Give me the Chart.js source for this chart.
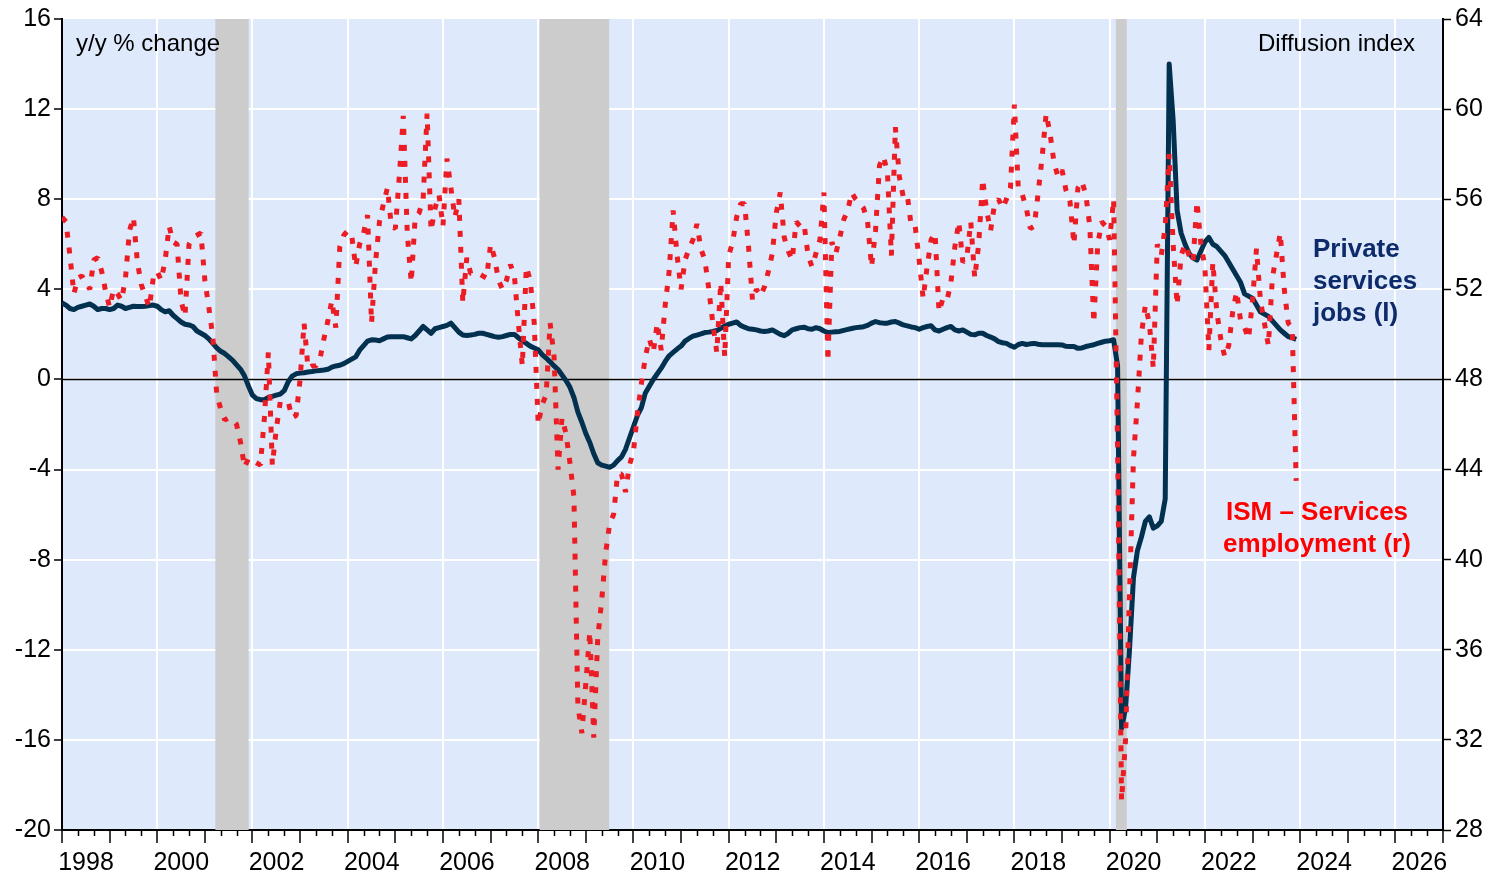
<!DOCTYPE html>
<html>
<head>
<meta charset="utf-8">
<title>Private services jobs vs ISM services employment</title>
<script src="https://cdn.jsdelivr.net/npm/chart.js@4.4.1/dist/chart.umd.min.js"></script>
<style>
  html, body { margin: 0; padding: 0; background: #fff; }
  canvas { display: block; }
</style>
</head>
<body>
<canvas id="chart" width="1508" height="878"></canvas>
<script>
// monthly series, Jan 1998 .. Dec 2023 (one row per year)
const START_YEAR = 1998;

// private services jobs, y/y % change (left axis)
const jobsYoY = [
  3.4, 3.3, 3.15, 3.1, 3.2, 3.25, 3.3, 3.35, 3.25, 3.1, 3.15, 3.15,
  3.1, 3.15, 3.3, 3.25, 3.15, 3.2, 3.25, 3.24, 3.24, 3.25, 3.28, 3.3,
  3.25, 3.1, 3.0, 3.05, 2.85, 2.7, 2.55, 2.45, 2.42, 2.35, 2.15, 2.05,
  1.95, 1.8, 1.6, 1.4, 1.25, 1.15, 1.0, 0.85, 0.65, 0.45, 0.15, -0.3,
  -0.7, -0.85, -0.9, -0.9, -0.8, -0.75, -0.7, -0.65, -0.5, -0.1, 0.15, 0.25,
  0.28, 0.3, 0.33, 0.35, 0.38, 0.4, 0.42, 0.45, 0.55, 0.6, 0.63, 0.7,
  0.8, 0.9, 1.0, 1.3, 1.5, 1.7, 1.76, 1.75, 1.72, 1.8, 1.88, 1.9,
  1.9, 1.9, 1.9, 1.85, 1.8, 1.95, 2.15, 2.35, 2.2, 2.05, 2.25, 2.3,
  2.35, 2.4, 2.5, 2.3, 2.1, 1.97, 1.95, 1.97, 2.0, 2.05, 2.05, 2.0,
  1.95, 1.9, 1.87, 1.9, 1.95, 2.0, 2.0, 1.85, 1.72, 1.6, 1.48, 1.4,
  1.32, 1.1, 0.95, 0.78, 0.6, 0.44, 0.2, -0.05, -0.35, -0.8, -1.45, -1.9,
  -2.4, -2.8, -3.3, -3.7, -3.8, -3.85, -3.9, -3.8, -3.6, -3.44, -3.1, -2.6,
  -2.1, -1.6, -1.25, -0.6, -0.3, 0.0, 0.25, 0.5, 0.8, 1.05, 1.2, 1.35,
  1.48, 1.7, 1.82, 1.92, 1.97, 2.02, 2.08, 2.1, 2.13, 2.17, 2.27, 2.38,
  2.45, 2.5, 2.55, 2.4, 2.32, 2.25, 2.23, 2.2, 2.15, 2.13, 2.15, 2.2,
  2.1, 2.0, 1.94, 2.05, 2.2, 2.25, 2.3, 2.32, 2.25, 2.23, 2.3, 2.25,
  2.15, 2.08, 2.1, 2.12, 2.13, 2.18, 2.22, 2.26, 2.3, 2.32, 2.34, 2.4,
  2.5, 2.57, 2.52, 2.5, 2.5, 2.55, 2.57, 2.5, 2.42, 2.38, 2.33, 2.3,
  2.23, 2.3, 2.35, 2.38, 2.2, 2.15, 2.23, 2.3, 2.35, 2.2, 2.15, 2.2,
  2.1, 2.0, 1.98, 2.05, 2.05, 1.95, 1.88, 1.8, 1.68, 1.63, 1.6, 1.5,
  1.43, 1.55, 1.6, 1.55, 1.58, 1.6, 1.56, 1.54, 1.54, 1.54, 1.54, 1.54,
  1.53, 1.47, 1.46, 1.46, 1.38, 1.4, 1.46, 1.5, 1.54, 1.6, 1.65, 1.7,
  1.72, 1.76, 0.6, -15.5, -14.6, -12.0, -8.8, -7.6, -7.0, -6.3, -6.1, -6.6,
  -6.5, -6.3, -5.3, 14.0, 11.5, 7.5, 6.5, 6.0, 5.6, 5.4, 5.3, 5.7,
  6.1, 6.3, 6.0, 5.9, 5.7, 5.5, 5.2, 4.9, 4.6, 4.3, 3.8, 3.7,
  3.6, 3.3, 3.0, 2.9, 2.8, 2.6, 2.4, 2.2, 2.05, 1.9, 1.85, 1.78
];

// ISM services employment diffusion index (right axis)
const ismEmployment = [
  55.2, 55.0, 53.5, 51.8, 52.5, 52.6, 52.3, 52.0, 53.3, 53.4, 52.8, 51.9,
  51.2, 52.0, 51.8, 51.5, 52.5, 54.6, 55.2, 53.2, 52.2, 51.7, 51.2, 52.5,
  52.8, 52.4, 53.3, 54.8, 54.1, 54.0, 51.5, 50.8, 54.0, 54.3, 54.4, 54.5,
  52.4, 51.2, 49.9, 47.3, 46.7, 46.2, 46.3, 46.2, 46.0, 45.2, 44.1, 44.5,
  44.4, 44.3, 44.2, 46.3, 49.2, 44.2, 45.8, 47.0, 47.0, 47.0, 46.3, 46.4,
  48.0, 50.5, 48.5, 48.6, 48.6, 48.9, 49.8, 50.6, 51.5, 50.3, 53.9, 54.4,
  54.6, 54.4, 53.0, 54.0, 54.5, 55.3, 50.5, 53.2, 55.0, 55.8, 56.5, 54.8,
  54.7, 57.0, 59.7, 54.5, 52.3, 55.2, 55.4, 56.0, 59.8, 54.6, 55.6, 56.2,
  54.8, 57.8, 56.5, 55.2, 56.0, 51.4, 53.4, 52.7, 52.7, 52.7, 52.6, 52.5,
  54.0, 53.4, 52.4, 52.0, 52.4, 53.1, 52.6, 50.5, 48.6, 53.0, 52.4, 50.5,
  46.0, 46.9, 47.3, 50.5, 49.0, 44.0, 46.3, 45.6, 44.3, 42.8, 33.5, 32.3,
  34.5, 36.8, 32.1, 36.5, 38.2, 40.3, 41.6, 42.0, 43.8, 43.8, 43.0, 44.2,
  44.8, 46.5, 47.8, 49.0, 49.8, 49.2, 50.5, 49.3, 51.3, 52.8, 55.5, 53.5,
  52.0, 53.3, 53.8, 54.2, 54.9, 53.8, 53.3, 52.0, 50.5, 49.2, 52.3, 49.0,
  53.5, 54.1, 55.2, 55.8, 55.8, 53.9, 51.5, 52.0, 51.7, 52.1, 52.8, 53.6,
  55.4, 56.3, 54.3, 53.7, 53.3, 55.0, 54.8, 54.9, 53.5, 53.0, 53.6, 54.2,
  56.3, 48.8, 54.1, 53.6, 54.3, 55.1, 55.5, 56.3, 56.0, 55.8, 55.6, 55.0,
  53.0, 54.6, 57.5, 57.9, 57.2, 53.5, 59.2, 57.0, 56.1, 56.2, 54.8, 54.8,
  53.3, 51.6, 53.0, 54.2, 54.5, 51.0, 51.6, 51.5, 52.3, 53.9, 55.0, 53.2,
  53.4, 55.0, 52.5, 54.0, 56.9, 55.5, 54.6, 55.8, 56.0, 55.6, 56.0, 56.5,
  60.2, 56.4, 56.2, 55.6, 54.7, 54.8, 56.3, 57.9, 59.8, 58.9, 57.6, 57.0,
  57.3, 56.4, 55.9, 54.0, 56.5, 56.8, 56.2, 54.8, 50.5, 54.0, 55.0, 54.8,
  54.2, 56.0, 45.0, 29.3, 32.0, 38.5, 44.5, 47.0, 50.0, 51.3, 50.5, 48.5,
  54.0, 53.5, 54.8, 58.0, 54.0, 51.3, 53.5, 54.0, 53.5, 53.2, 55.9, 54.0,
  53.0, 49.3, 53.2, 51.0, 49.8, 49.0, 49.5, 51.0, 51.9, 50.6, 50.3, 49.8,
  51.5, 53.8, 51.5, 50.5, 49.5, 52.5, 53.5, 54.5, 52.0, 50.5, 50.3, 43.5
];

// recession shading, in decimal years
const recessions = [
  [2001.22, 2001.92],
  [2008.03, 2009.49],
  [2020.13, 2020.36]
];

const X_MIN = 1998, X_MAX = 2027;
const yearTicks = [];
for (let y = X_MIN; y <= X_MAX; y++) yearTicks.push(y);

const FONT = '"Liberation Sans", Arial, sans-serif';
const BG = '#dee9fb';

function toPoints(values) {
  return values.map((v, i) => ({ x: START_YEAR + i / 12, y: v }));
}

const plotBackground = {
  id: 'plotBackground',
  beforeDraw(chart) {
    const { ctx, chartArea: a } = chart;
    ctx.save();
    ctx.fillStyle = BG;
    ctx.fillRect(a.left, a.top, a.right - a.left, a.bottom - a.top);
    ctx.restore();
  }
};

// grey recession bars sit above the white grid, the zero line goes back on top
const recessionBands = {
  id: 'recessionBands',
  beforeDatasetsDraw(chart) {
    const { ctx, chartArea: a, scales } = chart;
    ctx.save();
    ctx.fillStyle = '#cccccc';
    recessions.forEach(([s, e]) => {
      const x0 = scales.x.getPixelForValue(s);
      const x1 = scales.x.getPixelForValue(e);
      ctx.fillRect(x0, a.top, x1 - x0, a.bottom - a.top);
    });
    const y0 = scales.y.getPixelForValue(0);
    ctx.strokeStyle = '#000';
    ctx.lineWidth = 1.5;
    ctx.beginPath();
    ctx.moveTo(a.left, y0);
    ctx.lineTo(a.right, y0);
    ctx.stroke();
    ctx.restore();
  }
};

const minorTicksAndText = {
  id: 'minorTicksAndText',
  afterDraw(chart) {
    const { ctx, chartArea: a, scales } = chart;
    ctx.save();
    // short ticks every 4 months
    ctx.strokeStyle = '#000';
    ctx.lineWidth = 1.5;
    ctx.beginPath();
    for (let y = X_MIN; y < X_MAX; y++) {
      for (let k = 1; k <= 2; k++) {
        const px = Math.round(scales.x.getPixelForValue(y + k / 3)) + 0.5;
        ctx.moveTo(px, a.bottom);
        ctx.lineTo(px, a.bottom + 6);
      }
    }
    ctx.stroke();

    ctx.textBaseline = 'alphabetic';
    ctx.fillStyle = '#000';
    ctx.font = '24px ' + FONT;
    ctx.textAlign = 'left';
    ctx.fillText('y/y % change', 76, 51);
    ctx.textAlign = 'right';
    ctx.fillText('Diffusion index', 1415, 51);

    ctx.font = 'bold 26px ' + FONT;
    ctx.fillStyle = '#0d2b6b';
    ctx.textAlign = 'left';
    ctx.fillText('Private', 1313, 257);
    ctx.fillText('services', 1313, 289);
    ctx.fillText('jobs (l)', 1313, 321);

    ctx.fillStyle = '#ff0000';
    ctx.textAlign = 'center';
    ctx.fillText('ISM \u2013 Services', 1317, 520);
    ctx.fillText('employment (r)', 1317, 552);
    ctx.restore();
  }
};

const tickFont = { family: FONT, size: 25 };

new Chart(document.getElementById('chart'), {
  type: 'line',
  data: {
    datasets: [
      {
        label: 'ISM \u2013 Services employment (r)',
        data: toPoints(ismEmployment),
        yAxisID: 'y2',
        borderColor: '#ec1c24',
        borderWidth: 5,
        borderDash: [6, 10],
        borderCapStyle: 'butt',
        borderJoinStyle: 'bevel',
        pointRadius: 0,
        tension: 0,
        order: 1
      },
      {
        label: 'Private services jobs (l)',
        data: toPoints(jobsYoY),
        yAxisID: 'y',
        borderColor: '#02304f',
        borderWidth: 5,
        borderJoinStyle: 'round',
        pointRadius: 0,
        tension: 0,
        order: 2
      }
    ]
  },
  options: {
    responsive: false,
    animation: false,
    layout: { padding: { top: 19, left: 0, right: 0, bottom: 0 } },
    plugins: { legend: { display: false }, tooltip: { enabled: false } },
    scales: {
      x: {
        type: 'linear',
        min: X_MIN,
        max: X_MAX,
        afterBuildTicks: s => { s.ticks = yearTicks.map(v => ({ value: v })); },
        afterFit: s => { s.height = 48; },
        ticks: {
          autoSkip: false,
          maxRotation: 0,
          labelOffset: 24,
          padding: 5,
          color: '#000',
          font: tickFont,
          callback: v => (v % 2 === 0 && v < X_MAX) ? String(v) : ''
        },
        grid: {
          color: c => (c.tick && c.tick.value % 2 === 0 && c.tick.value > X_MIN && c.tick.value < X_MAX) ? '#ffffff' : 'rgba(0,0,0,0)',
          lineWidth: 2,
          tickColor: '#000',
          tickLength: 13,
          tickWidth: 1.5
        },
        border: { color: '#000', width: 2 }
      },
      y: {
        position: 'left',
        min: -20,
        max: 16,
        afterFit: s => { s.width = 62; },
        ticks: { stepSize: 4, color: '#000', font: tickFont, padding: 3 },
        grid: {
          color: c => (c.tick && c.tick.value > -20 && c.tick.value < 16) ? '#ffffff' : 'rgba(0,0,0,0)',
          lineWidth: 2,
          tickColor: '#000',
          tickLength: 8,
          tickWidth: 1.5
        },
        border: { color: '#000', width: 2 }
      },
      y2: {
        position: 'right',
        min: 28,
        max: 64,
        afterFit: s => { s.width = 65; },
        ticks: { stepSize: 4, color: '#000', font: tickFont, padding: 4 },
        grid: { drawOnChartArea: false, tickColor: '#000', tickLength: 8, tickWidth: 1.5 },
        border: { color: '#000', width: 2 }
      }
    }
  },
  plugins: [plotBackground, recessionBands, minorTicksAndText]
});
</script>
</body>
</html>
